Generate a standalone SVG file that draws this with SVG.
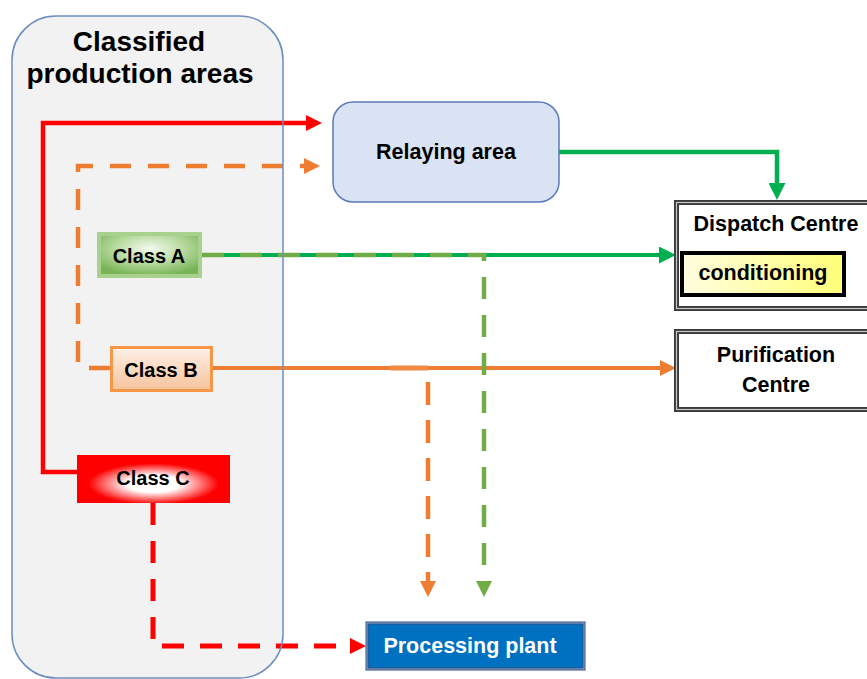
<svg xmlns="http://www.w3.org/2000/svg" width="867" height="679" viewBox="0 0 867 679">
  <style>
    .lbl { font-family: "Liberation Sans", Arial, sans-serif; font-weight: bold; fill: #000; text-anchor: middle; }
    .title { font-size: 28px; }
    .cls { font-size: 20px; }
    .big { font-size: 21.5px; }
    .conn { fill: none; }
    .dash { stroke-dasharray: 22 16; }
    .frame-outer { fill: #fff; stroke: #3a3a3a; stroke-width: 5; }
    .frame-inner { fill: none; stroke: #c8c8c8; stroke-width: 1.2; }
  </style>
  <defs>
    <marker id="ah-red" markerUnits="userSpaceOnUse" markerWidth="16" markerHeight="16" refX="0" refY="8" orient="auto">
      <path d="M0,0 L16,8 L0,16 z" fill="#ff0000"/>
    </marker>
    <marker id="ah-orange" markerUnits="userSpaceOnUse" markerWidth="16" markerHeight="16" refX="0" refY="8" orient="auto">
      <path d="M0,0 L16,8 L0,16 z" fill="#ed7d31"/>
    </marker>
    <marker id="ah-green" markerUnits="userSpaceOnUse" markerWidth="17" markerHeight="17" refX="0" refY="8.5" orient="auto">
      <path d="M0,0 L17,8.5 L0,17 z" fill="#00b050"/>
    </marker>
    <marker id="ah-lgreen" markerUnits="userSpaceOnUse" markerWidth="16" markerHeight="16" refX="0" refY="8" orient="auto">
      <path d="M0,0 L16,8 L0,16 z" fill="#70ad47"/>
    </marker>
    <radialGradient id="g-classA" cx="0.5" cy="0.35" r="0.65">
      <stop offset="0" stop-color="#f4faef"/>
      <stop offset="0.55" stop-color="#b5d89c"/>
      <stop offset="1" stop-color="#78b456"/>
    </radialGradient>
    <linearGradient id="g-classB" x1="0" y1="0" x2="0" y2="1">
      <stop offset="0" stop-color="#fdf0e7"/>
      <stop offset="1" stop-color="#f6c39b"/>
    </linearGradient>
    <radialGradient id="g-classC" cx="0.5" cy="0.6" r="0.5">
      <stop offset="0" stop-color="#ffffff"/>
      <stop offset="0.35" stop-color="#ffffff"/>
      <stop offset="0.85" stop-color="#ff0000"/>
      <stop offset="1" stop-color="#ff0000"/>
    </radialGradient>
    <linearGradient id="g-cond" x1="0" y1="0" x2="1" y2="0">
      <stop offset="0" stop-color="#fffde0"/>
      <stop offset="1" stop-color="#ffff78"/>
    </linearGradient>
  </defs>

  <!-- production areas container -->
  <g id="production-areas">
    <rect x="12" y="16" width="271" height="662" rx="44" fill="#f2f2f2"/>
    <text class="lbl title" x="139" y="51">Classified</text>
    <text class="lbl title" x="140" y="83">production areas</text>
  </g>

  <!-- connectors -->
  <g id="connectors" class="conn">
    <path d="M77,472 H43 V123 H306" stroke="#ff0000" stroke-width="4.5" marker-end="url(#ah-red)"/>
    <path d="M110,368 H78 V166 H304" stroke="#ed7d31" stroke-width="4.5" style="stroke-dasharray:21 17" marker-end="url(#ah-orange)"/>
    <path d="M559,152 H777 V183" stroke="#00b050" stroke-width="4.5" marker-end="url(#ah-green)"/>
    <path d="M202,255 H659" stroke="#00b050" stroke-width="4" marker-end="url(#ah-green)"/>
    <path d="M213,368 H660" stroke="#ed7d31" stroke-width="4" marker-end="url(#ah-orange)"/>
    <path d="M202,255 H484 V581" stroke="#70ad47" stroke-width="4.5" class="dash" marker-end="url(#ah-lgreen)"/>
    <path d="M390,368 H428" stroke="#f08a45" stroke-width="5"/>
    <path d="M428,382 V581" stroke="#ed7d31" stroke-width="4.5" style="stroke-dasharray:23 15" marker-end="url(#ah-orange)"/>
    <path d="M153,503 V646 H350" stroke="#ff0000" stroke-width="5" class="dash" marker-end="url(#ah-red)"/>
  </g>

  <!-- container outline sits over the connectors -->
  <rect id="production-areas-outline" x="12" y="16" width="271" height="662" rx="44" fill="none" stroke="#6c8ebf" stroke-width="1.5"/>

  <g id="class-a">
    <rect x="99" y="234" width="101" height="42" fill="url(#g-classA)" stroke="#a9d18e" stroke-width="4"/>
    <text class="lbl cls" x="149" y="263">Class A</text>
  </g>

  <g id="class-b">
    <rect x="111.5" y="347.5" width="100" height="43" fill="url(#g-classB)" stroke="#f79646" stroke-width="3"/>
    <text class="lbl cls" x="161" y="377">Class B</text>
  </g>

  <g id="class-c">
    <rect x="77" y="455" width="153" height="48" fill="url(#g-classC)"/>
    <text class="lbl cls" x="153" y="485">Class C</text>
  </g>

  <g id="relaying-area">
    <rect x="333" y="102" width="226" height="100" rx="20" fill="#dae3f3" stroke="#5b7bb9" stroke-width="1.5"/>
    <text class="lbl big" x="446" y="159">Relaying area</text>
  </g>

  <g id="dispatch-centre">
    <rect class="frame-outer" x="676.5" y="202.5" width="200" height="106"/>
    <rect class="frame-inner" x="676.5" y="202.5" width="200" height="106"/>
    <text class="lbl big" x="776" y="231">Dispatch Centre</text>
    <g id="conditioning">
      <rect x="682" y="253" width="162" height="42" fill="url(#g-cond)" stroke="#000" stroke-width="4"/>
      <text class="lbl big" x="763" y="280">conditioning</text>
    </g>
  </g>

  <g id="purification-centre">
    <rect class="frame-outer" x="676.5" y="331.5" width="200" height="78"/>
    <rect class="frame-inner" x="676.5" y="331.5" width="200" height="78"/>
    <text class="lbl big" x="776" y="362">Purification</text>
    <text class="lbl big" x="776" y="392">Centre</text>
  </g>

  <g id="processing-plant">
    <rect x="367" y="623" width="217" height="46" fill="#0070c0" stroke="#2f4f86" stroke-width="3"/>
    <rect x="367" y="623" width="217" height="46" fill="none" stroke="#a9bfdc" stroke-width="0.8"/>
    <text class="lbl big" x="470" y="653" style="fill:#fff">Processing plant</text>
  </g>
</svg>
